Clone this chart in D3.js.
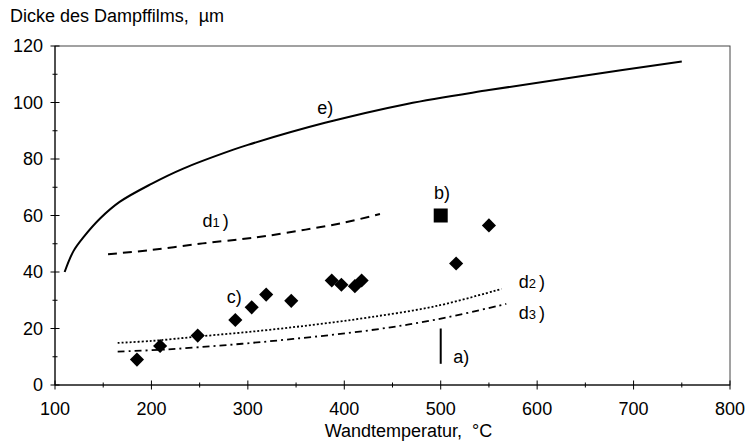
<!DOCTYPE html>
<html><head><meta charset="utf-8">
<script src="https://cdn.jsdelivr.net/npm/d3@7"></script>
<style>body{margin:0;background:#fff}</style>
</head><body><svg id="c" width="746" height="446"></svg>
<script>
// Data
const curveE  = [[110,40],[119,47.3],[130,52.5],[147,59],[167,64.8],[200,71.2],[233,76.6],[285,83.3],[300,85],[380,92.8],[465,99.5],[550,104.4],[645,109.3],[750,114.5]];
const curveD1 = [[155,46.3],[200,47.8],[250,50],[292,51.6],[320,52.8],[360,55],[400,57.5],[437,60.5]];
const curveD2 = [[165,14.9],[200,15.6],[250,17.2],[313,19.2],[370,21.4],[427,24],[496,28],[563,34]];
const curveD3 = [[165,11.8],[216,12.6],[280,14.2],[347,16.3],[427,19.4],[496,23.2],[568,28.7]];
const pointsC = [[185,9],[209,13.8],[248,17.5],[287,23],[304,27.5],[319,32],[345,29.8],[387,37],[397,35.5],[411,35],[418,37],[516,43],[550,56.5]];
const pointB  = [[500,60]];
const lineA   = [[500,7.5],[500,20]];
const xTicks = [100,200,300,400,500,600,700,800];
const xMinor = [150,250,350,450,550,650,750];
const yTicks = [0,20,40,60,80,100,120];
const yMinor = [10,30,50,70,90,110];
const labels = [
  {t:"e)", x:372, y:96},
  {t:"b)", x:493, y:66},
  {t:"c)", x:278, y:29},
  {t:"a)", x:513, y:7.8}
];
const subLabels = [
  {t:"d", s:"1", x:253, y:56},
  {t:"d", s:"2", x:581, y:34.5},
  {t:"d", s:"3", x:581, y:23.5}
];

const W=746,H=446, m={l:55,r:16,t:46,b:61};
const svg=d3.select("#c");
const font="'Liberation Sans', Arial, sans-serif";
const x=d3.scaleLinear().domain([100,800]).range([m.l,W-m.r]);
const y=d3.scaleLinear().domain([0,120]).range([H-m.b,m.t]);

// frame
svg.append("rect").attr("x",x(100)).attr("y",y(120)).attr("width",x(800)-x(100)).attr("height",y(0)-y(120))
  .attr("fill","none").attr("stroke","#444").attr("stroke-width",1);

// axes
const gx=svg.append("g").attr("transform",`translate(0,${y(0)})`);
gx.append("line").attr("x1",x(100)).attr("x2",x(800)).attr("stroke","#000");
gx.selectAll(".mj").data(xTicks).join("line").attr("x1",d=>x(d)).attr("x2",d=>x(d)).attr("y1",-4.5).attr("y2",4.5).attr("stroke","#000");
gx.selectAll(".mn").data(xMinor).join("line").attr("x1",d=>x(d)).attr("x2",d=>x(d)).attr("y1",-2.5).attr("y2",2.5).attr("stroke","#000");
gx.selectAll("text").data(xTicks).join("text").attr("x",d=>x(d)).attr("y",30).attr("text-anchor","middle")
  .attr("font-family",font).attr("font-size",18).text(d=>d);

const gy=svg.append("g").attr("transform",`translate(${x(100)},0)`);
gy.append("line").attr("y1",y(0)).attr("y2",y(120)).attr("stroke","#000");
gy.selectAll(".mj").data(yTicks).join("line").attr("y1",d=>y(d)).attr("y2",d=>y(d)).attr("x1",-4.5).attr("x2",4.5).attr("stroke","#000");
gy.selectAll(".mn").data(yMinor).join("line").attr("y1",d=>y(d)).attr("y2",d=>y(d)).attr("x1",-2.5).attr("x2",2.5).attr("stroke","#000");
gy.selectAll("text").data(yTicks).join("text").attr("x",-12).attr("y",d=>y(d)).attr("dy","0.35em").attr("text-anchor","end")
  .attr("font-family",font).attr("font-size",18).text(d=>d);

svg.append("text").attr("x",10).attr("y",22).attr("font-family",font).attr("font-size",18).attr("xml:space","preserve").text("Dicke des Dampffilms,  µm");
svg.append("text").attr("x",(x(100)+x(800))/2+16).attr("y",437).attr("text-anchor","middle").attr("font-family",font).attr("font-size",18).attr("xml:space","preserve").text("Wandtemperatur,  °C");

// curves
const line=d3.line().x(d=>x(d[0])).y(d=>y(d[1])).curve(d3.curveCatmullRom.alpha(0.5));
svg.append("path").attr("d",line(curveE)).attr("fill","none").attr("stroke","#000").attr("stroke-width",2);
svg.append("path").attr("d",line(curveD1)).attr("fill","none").attr("stroke","#000").attr("stroke-width",2).attr("stroke-dasharray","9,6");
svg.append("path").attr("d",line(curveD2)).attr("fill","none").attr("stroke","#000").attr("stroke-width",1.8).attr("stroke-dasharray","2,2");
svg.append("path").attr("d",line(curveD3)).attr("fill","none").attr("stroke","#000").attr("stroke-width",1.8).attr("stroke-dasharray","7,4,2,4");
svg.append("path").attr("d",d3.line().x(d=>x(d[0])).y(d=>y(d[1]))(lineA)).attr("stroke","#000").attr("stroke-width",2);

// markers
const diamond=d3.symbol().type(d3.symbolSquare).size(100);
svg.selectAll(".c").data(pointsC).join("path").attr("d",diamond)
  .attr("transform",d=>`translate(${x(d[0])},${y(d[1])}) rotate(45)`).attr("fill","#000");
svg.selectAll(".b").data(pointB).join("rect").attr("x",d=>x(d[0])-7).attr("y",d=>y(d[1])-7).attr("width",14).attr("height",14).attr("fill","#000");

// labels
svg.selectAll(".lb").data(labels).join("text").attr("x",d=>x(d.x)).attr("y",d=>y(d.y)).attr("font-family",font).attr("font-size",18).text(d=>d.t);
const sl=svg.selectAll(".sl").data(subLabels).join("text").attr("x",d=>x(d.x)).attr("y",d=>y(d.y)).attr("font-family",font).attr("font-size",18);
sl.append("tspan").text(d=>d.t);
sl.append("tspan").attr("font-size",13).text(d=>d.s);
sl.append("tspan").attr("dx",3).text(")");
</script></body></html>
